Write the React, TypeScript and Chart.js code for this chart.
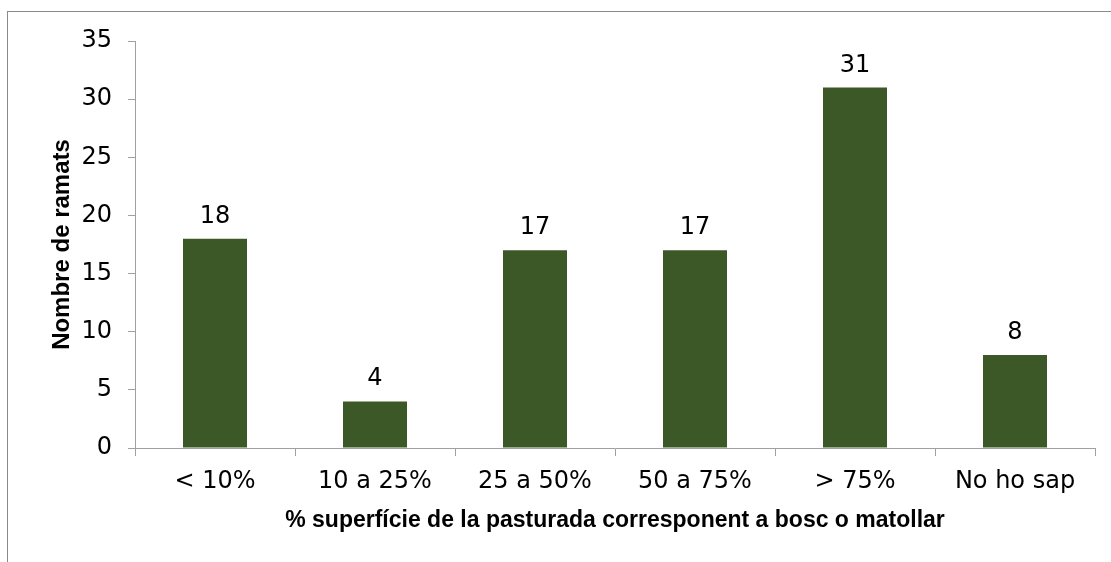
import React, { useEffect, useRef } from "react";
import { Chart, registerables } from "chart.js";

Chart.register(...registerables);

const categories = ["< 10%", "10 a 25%", "25 a 50%", "50 a 75%", "> 75%", "No ho sap"];
const values = [18, 4, 17, 17, 31, 8];
const yTitle = "Nombre de ramats";
const xTitle = "% superfície de la pasturada corresponent a bosc o matollar";

const BAR_COLOR = "#3c5827";
const AXIS_COLOR = "#a0a0a0";
const TICK_FONT = "'DejaVu Sans', Verdana, sans-serif";
const TITLE_FONT = "'Liberation Sans', Arial, sans-serif";

const valueLabels = {
  id: "valueLabels",
  afterDatasetsDraw(chart: any) {
    const ctx = chart.ctx;
    const meta = chart.getDatasetMeta(0);
    ctx.save();
    ctx.font = `24px ${TICK_FONT}`;
    ctx.fillStyle = "#000";
    ctx.textAlign = "center";
    ctx.textBaseline = "alphabetic";
    meta.data.forEach((bar: any, i: number) => {
      ctx.fillText(String(values[i]), bar.x, bar.y - 16);
    });
    ctx.restore();
  },
};

export default function App() {
  const ref = useRef<HTMLCanvasElement | null>(null);
  useEffect(() => {
    if (!ref.current) return;
    const chart = new Chart(ref.current, {
      type: "bar",
      data: {
        labels: categories,
        datasets: [
          {
            data: values,
            backgroundColor: BAR_COLOR,
            borderWidth: 0,
            categoryPercentage: 1,
            barPercentage: 0.4,
          },
        ],
      },
      options: {
        responsive: false,
        animation: false,
        events: [],
        layout: { padding: { left: 0, right: 16, top: 41, bottom: 0 } },
        plugins: {
          legend: { display: false },
          tooltip: { enabled: false },
        },
        scales: {
          x: {
            afterFit(scale: any) {
              scale.height = 562 - 448;
            },
            grid: {
              drawOnChartArea: false,
              drawTicks: true,
              tickLength: 8,
              color: AXIS_COLOR,
              offset: true,
            },
            border: { display: true, color: AXIS_COLOR, width: 1 },
            ticks: {
              color: "#000",
              font: { family: TICK_FONT, size: 24 },
              padding: 11,
              maxRotation: 0,
              autoSkip: false,
            },
            title: {
              display: true,
              text: xTitle,
              color: "#000",
              font: { family: TITLE_FONT, size: 23, weight: "bold", lineHeight: 1.2 },
              padding: { top: 0, bottom: 28 },
            },
          },
          y: {
            min: 0,
            max: 35,
            afterFit(scale: any) {
              scale.width = 135;
            },
            grid: {
              drawOnChartArea: false,
              drawTicks: true,
              tickLength: 7,
              color: AXIS_COLOR,
            },
            border: { display: true, color: AXIS_COLOR, width: 1 },
            ticks: {
              stepSize: 5,
              color: "#000",
              font: { family: TICK_FONT, size: 24 },
              padding: 16,
            },
            title: {
              display: true,
              text: yTitle,
              color: "#000",
              font: { family: TITLE_FONT, size: 24, weight: "bold", lineHeight: 1.2 },
              padding: { top: 48, bottom: 0 },
            },
          },
        },
      },
      plugins: [valueLabels],
    });
    return () => chart.destroy();
  }, []);

  return (
    <div
      style={{
        position: "fixed",
        left: 0,
        top: 0,
        width: 1111,
        height: 562,
        overflow: "hidden",
        background: "#fff",
      }}
    >
      <div
        style={{
          position: "absolute",
          left: 7,
          top: 11,
          width: 1300,
          height: 800,
          border: "1.5px solid #8a8a8a",
          boxSizing: "border-box",
        }}
      />
      <canvas
        ref={ref}
        width={1111}
        height={562}
        style={{ position: "absolute", left: 0, top: 0, width: 1111, height: 562 }}
      />
    </div>
  );
}
